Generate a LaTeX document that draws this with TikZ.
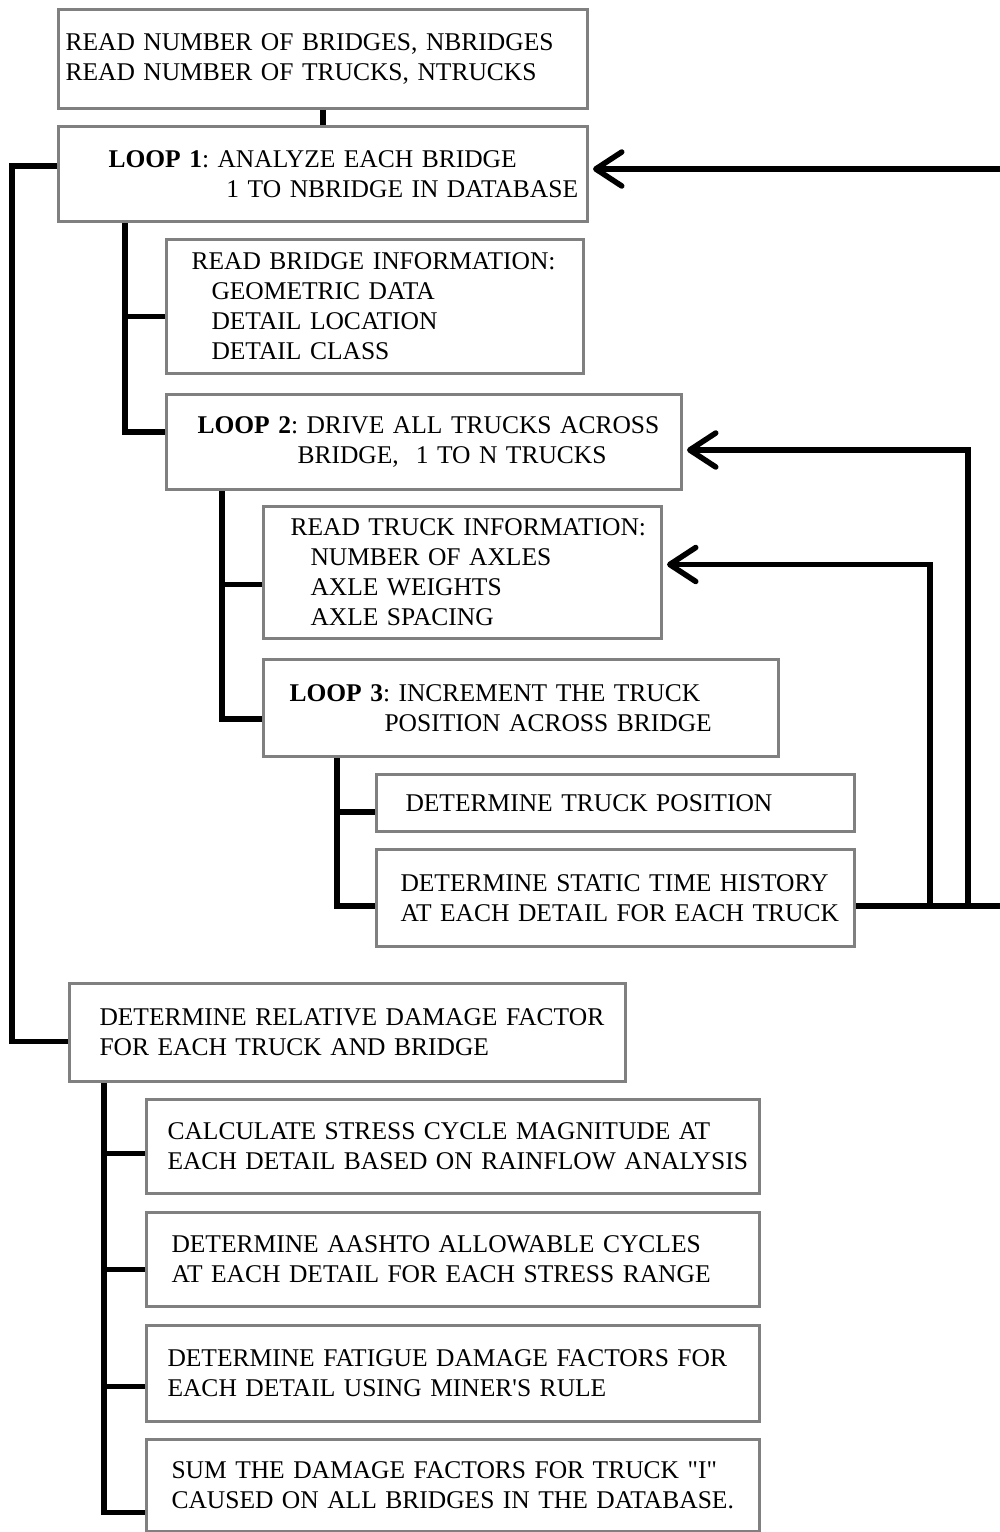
\documentclass[tikz,border=0pt]{standalone}
\usepackage{fontspec}
\setmainfont{Liberation Serif}
\usetikzlibrary{arrows.meta,calc}

\tikzset{
  box/.style={draw=black!50, line width=3pt, inner xsep=4pt, inner ysep=0pt,
    align=left, anchor=north west},
  link/.style={line width=5.5pt},
  back/.style={link, -{Straight Barb[length=26pt,width=34pt,round]}, shorten >=4pt}
}
\newcommand{\lineat}[2]{\mbox{\hspace*{#1pt}#2}}
\frenchspacing

\begin{document}
\begin{tikzpicture}[x=1pt,y=-1pt,font=\fontsize{25.5}{30}\selectfont]
  \useasboundingbox (0,0) rectangle (1000,1532);
  % main loop boxes
  \node[box,text width=521pt,minimum height=99pt] (A) at (57,8)
    {\lineat{3}{READ NUMBER OF BRIDGES, NBRIDGES}\\\lineat{3}{READ NUMBER OF TRUCKS, NTRUCKS}};
  \node[box,text width=521pt,minimum height=95pt] (B) at (57,125)
    {\lineat{46}{\textbf{LOOP 1}: ANALYZE EACH BRIDGE}\\\lineat{164}{1 TO NBRIDGE IN DATABASE}};
  \node[box,text width=409pt,minimum height=134pt] (C) at (165,238)
    {\lineat{21}{READ BRIDGE INFORMATION:}\\\lineat{41}{GEOMETRIC DATA}\\
     \lineat{41}{DETAIL LOCATION}\\\lineat{41}{DETAIL CLASS}};
  \node[box,text width=507pt,minimum height=95pt] (D) at (165,393)
    {\lineat{27}{\textbf{LOOP 2}: DRIVE ALL TRUCKS ACROSS}\\\lineat{127}{BRIDGE,~ 1 TO N TRUCKS}};
  \node[box,text width=390pt,minimum height=132pt] (E) at (262,505)
    {\lineat{23}{READ TRUCK INFORMATION:}\\\lineat{43}{NUMBER OF AXLES}\\
     \lineat{43}{AXLE WEIGHTS}\\\lineat{43}{AXLE SPACING}};
  \node[box,text width=507pt,minimum height=97pt] (F) at (262,658)
    {\lineat{22}{\textbf{LOOP 3}: INCREMENT THE TRUCK}\\\lineat{117}{POSITION ACROSS BRIDGE}};
  \node[box,text width=470pt,minimum height=57pt] (G) at (375,773)
    {\lineat{25}{DETERMINE TRUCK POSITION}};
  \node[box,text width=470pt,minimum height=97pt] (H) at (375,848)
    {\lineat{20}{DETERMINE STATIC TIME HISTORY}\\\lineat{20}{AT EACH DETAIL FOR EACH TRUCK}};
  % damage boxes
  \node[box,text width=548pt,minimum height=98pt] (I) at (68,982)
    {\lineat{26}{DETERMINE RELATIVE DAMAGE FACTOR}\\\lineat{26}{FOR EACH TRUCK AND BRIDGE}};
  \node[box,text width=605pt,minimum height=94pt] (J) at (145,1098)
    {\lineat{17}{CALCULATE STRESS CYCLE MAGNITUDE AT}\\\lineat{17}{EACH DETAIL BASED ON RAINFLOW ANALYSIS}};
  \node[box,text width=605pt,minimum height=94pt] (K) at (145,1211)
    {\lineat{21}{DETERMINE AASHTO ALLOWABLE CYCLES}\\\lineat{21}{AT EACH DETAIL FOR EACH STRESS RANGE}};
  \node[box,text width=605pt,minimum height=96pt] (L) at (145,1324)
    {\lineat{17}{DETERMINE FATIGUE DAMAGE FACTORS FOR}\\\lineat{17}{EACH DETAIL USING MINER\textquotesingle S RULE}};
  \node[box,text width=605pt,minimum height=92pt] (M) at (145,1438)
    {\lineat{21}{SUM THE DAMAGE FACTORS FOR TRUCK \textquotedbl I\textquotedbl}\\
     \lineat{21}{CAUSED ON ALL BRIDGES IN THE DATABASE.}};
  % trunk positions
  \coordinate (x0) at (12,0);
  \coordinate (x1) at (125,0);
  \coordinate (x2) at (222,0);
  \coordinate (x3) at (337,0);
  \coordinate (x4) at (104,0);
  \coordinate (r1) at (930,0);
  \coordinate (r2) at (968,0);
  \coordinate (edge) at (1003,0);
  \draw[link] (A) -- (B);
  \draw[link] (B.south -| x1) |- ($(C.west)+(0,10)$);
  \draw[link] (B.south -| x1) |- ($(D.west)+(0,-10)$);
  \draw[link] (D.south -| x2) |- ($(E.west)+(0,12)$);
  \draw[link] (D.south -| x2) |- ($(F.west)+(0,11)$);
  \draw[link] (F.south -| x3) |- ($(G.west)+(0,9)$);
  \draw[link] (F.south -| x3) |- ($(H.west)+(0,8)$);
  \draw[link] (I.south -| x4) |- ($(J.west)+(0,7)$);
  \draw[link] (I.south -| x4) |- ($(K.west)+(0,10)$);
  \draw[link] (I.south -| x4) |- ($(L.west)+(0,13)$);
  \draw[link] (I.south -| x4) |- ($(M.west)+(0,27)$);
  \coordinate (b0) at ($(B.west)+(0,-8)$);
  \coordinate (i0) at ($(I.west)+(0,9)$);
  \draw[link] (b0) -| (x0 |- i0) -- (i0);
  % loop returns
  \coordinate (h0) at ($(H.east)+(0,8)$);
  \coordinate (b1) at ($(B.east)+(0,-5)$);
  \draw[link] (h0) -- (h0 -| edge);
  \draw[back] (h0 -| r1) |- ($(E.east)+(0,-8)$);
  \draw[back] (h0 -| r2) |- ($(D.east)+(0,8)$);
  \draw[back] (b1 -| edge) -- (b1);
\end{tikzpicture}
\end{document}
